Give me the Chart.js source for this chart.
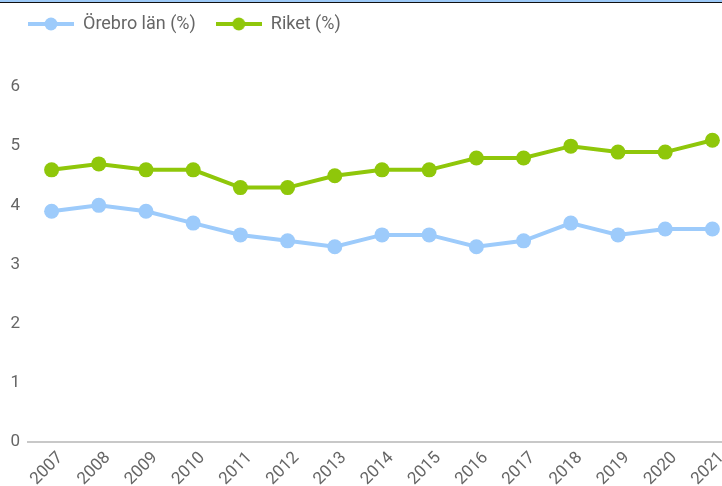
<!DOCTYPE html>
<html>
<head>
<meta charset="utf-8">
<script src="https://cdn.jsdelivr.net/npm/chart.js@4/dist/chart.umd.min.js"></script>
<style>
  html, body { margin: 0; padding: 0; background: #fff; overflow: hidden; width: 722px; height: 486px; }
  #wrap { position: absolute; left: 0; top: 0; width: 760px; height: 486px; }
  #topA { position: absolute; left: 0; top: 0; width: 722px; height: 2px; background: #9cc9f7; z-index: 2; }
  #topB { position: absolute; left: 0; top: 2px; width: 722px; height: 1px; background: #111; z-index: 2; }
</style>
</head>
<body>
<div id="topA"></div><div id="topB"></div>
<div id="wrap"><canvas id="c" width="760" height="486"></canvas></div>
<script>
const years = ["2007","2008","2009","2010","2011","2012","2013","2014","2015","2016","2017","2018","2019","2020","2021"];
const orebro = [3.9, 4.0, 3.9, 3.7, 3.5, 3.4, 3.3, 3.5, 3.5, 3.3, 3.4, 3.7, 3.5, 3.6, 3.6];
const riket  = [4.6, 4.7, 4.6, 4.6, 4.3, 4.3, 4.5, 4.6, 4.6, 4.8, 4.8, 5.0, 4.9, 4.9, 5.1];
const yTicks = [0, 1, 2, 3, 4, 5, 6];

const BLUE = "#9dcbfb";
const GREEN = "#8fc70a";

function legendIcon(color) {
  const c = document.createElement("canvas");
  c.width = 46; c.height = 14;
  const x = c.getContext("2d");
  x.strokeStyle = color; x.lineWidth = 4;
  x.beginPath(); x.moveTo(0, 7); x.lineTo(46, 7); x.stroke();
  x.fillStyle = color;
  x.beginPath(); x.arc(23, 7, 6.5, 0, Math.PI * 2); x.fill();
  return c;
}
const icons = [legendIcon(BLUE), legendIcon(GREEN)];

const legendSpace = {
  id: "legendSpace",
  beforeInit(chart) {
    const orig = chart.legend.fit;
    chart.legend.fit = function () { orig.call(this); this.height += 44; };
  }
};

new Chart(document.getElementById("c"), {
  type: "line",
  data: {
    labels: years,
    datasets: [
      { label: "Örebro län (%)", data: orebro, borderColor: BLUE, backgroundColor: BLUE,
        borderWidth: 4, pointRadius: 7.5, pointHoverRadius: 7.5, pointBorderWidth: 0, tension: 0 },
      { label: "Riket (%)", data: riket, borderColor: GREEN, backgroundColor: GREEN,
        borderWidth: 4, pointRadius: 7.5, pointHoverRadius: 7.5, pointBorderWidth: 0, tension: 0 }
    ]
  },
  plugins: [legendSpace],
  options: {
    responsive: false,
    animation: false,
    layout: { padding: { left: 8, right: 24, top: -5, bottom: 0 } },
    plugins: {
      tooltip: { enabled: false },
      legend: {
        position: "top",
        align: "start",
        labels: {
          usePointStyle: true,
          pointStyleWidth: 46,
          font: { family: "Roboto", size: 18 },
          color: "#666",
          padding: 20,
          generateLabels(chart) {
            const items = Chart.defaults.plugins.legend.labels.generateLabels(chart);
            items.forEach((it, i) => { it.pointStyle = icons[i]; });
            return items;
          }
        }
      }
    },
    scales: {
      x: {
        offset: true,
        grid: { display: false, drawTicks: false },
        border: { display: true, color: "#c8c8c8", width: 2 },
        ticks: { minRotation: 45, maxRotation: 45, color: "#666", font: { family: "Roboto", size: 17 }, padding: 6, labelOffset: 9 },
        afterFit(axis) { axis.height = 44; axis.paddingLeft = 0; axis.paddingRight = 0; }
      },
      y: {
        min: 0, max: 6,
        afterBuildTicks(axis) { axis.ticks = yTicks.map(v => ({ value: v })); },
        grid: { display: false, drawTicks: false },
        border: { display: false },
        ticks: { color: "#666", font: { family: "Roboto", size: 17 }, padding: 8 },
        afterFit(axis) { axis.width = 20; }
      }
    }
  }
});
</script>
</body>
</html>
